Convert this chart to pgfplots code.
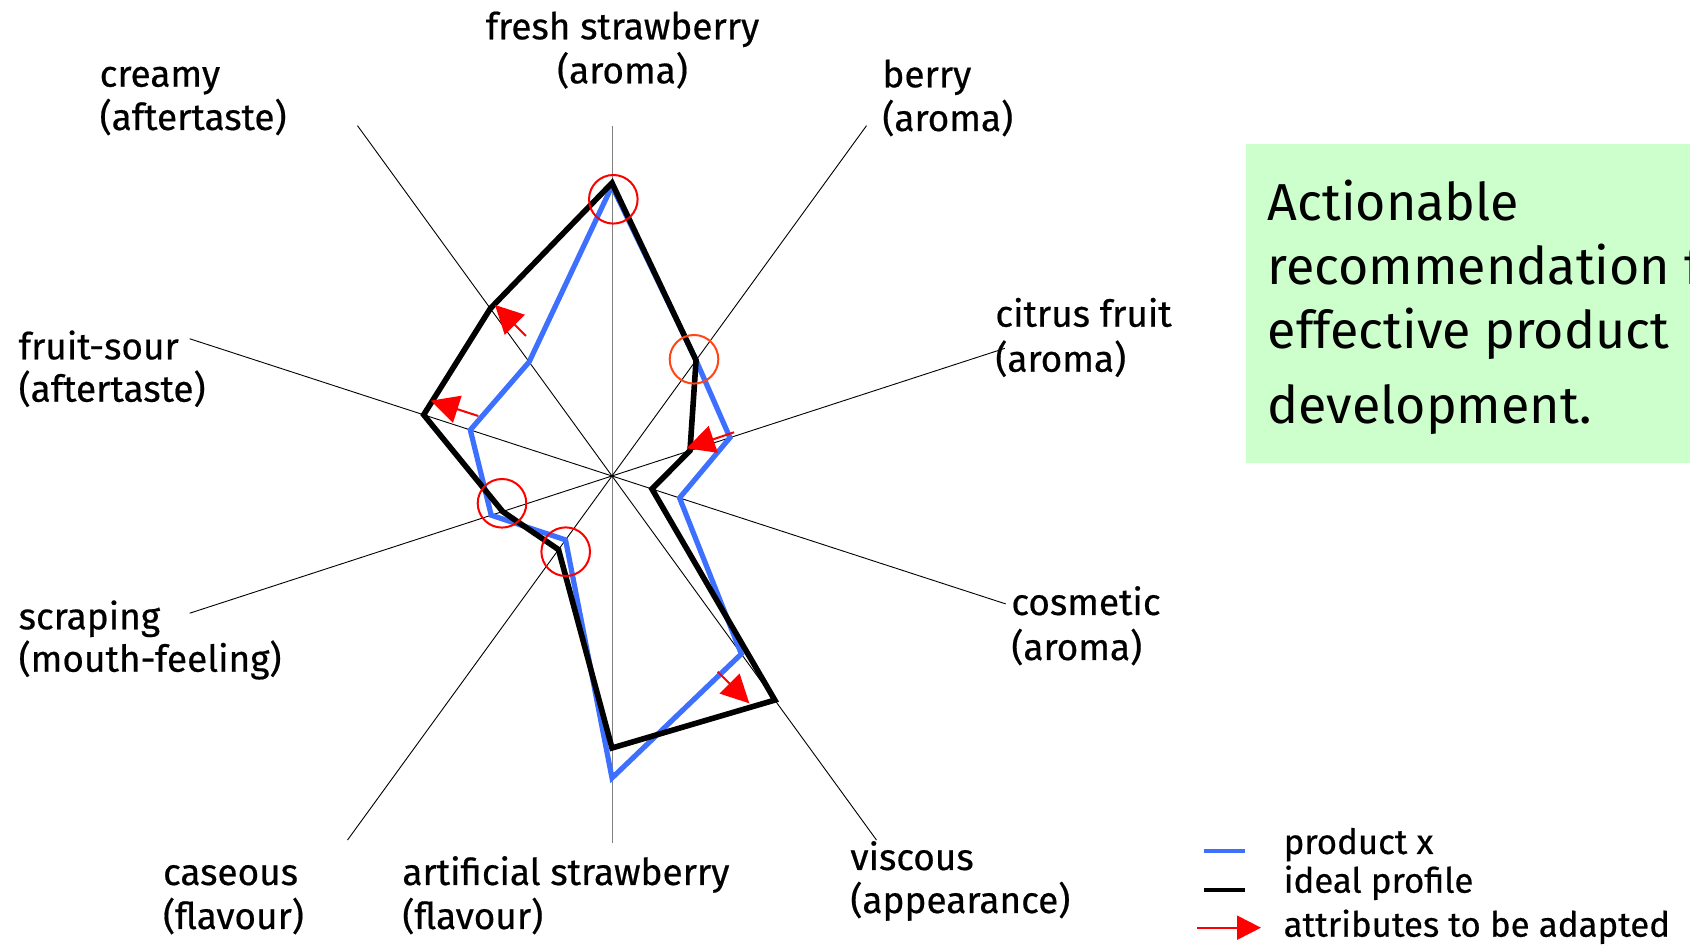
\documentclass[border=0pt]{standalone}
\usepackage{fontspec}
\setmainfont{Fira Sans}
\newfontfamily\labfamily{Fira Sans}[FakeBold=0.5]
\usepackage{pgfplots}
\pgfplotsset{compat=1.18}
\usetikzlibrary{arrows.meta}
\definecolor{prodblue}{RGB}{62,112,255}
\definecolor{boxgreen}{RGB}{204,255,204}
\definecolor{circorange}{RGB}{255,70,20}
\newcommand\lab{\labfamily\fontsize{18.5pt}{22pt}\selectfont}
\newcommand\leg{\labfamily\fontsize{17.4pt}{22pt}\selectfont}
\newcommand\boxfont{\fontsize{26pt}{32pt}\selectfont}
\begin{document}
\begin{tikzpicture}
\begin{axis}[
  width=845pt, height=472.5pt, scale only axis,
  xmin=-612, xmax=1078, ymin=-469, ymax=476,
  hide axis, clip=false,
]
% recommendation box
\fill[boxgreen] (axis cs:634,12.7) rectangle (axis cs:1120,332);
\node[anchor=base west, inner sep=0, font=\boxfont] at (axis cs:655.3,255) {Actionable};
\node[anchor=base west, inner sep=0, font=\boxfont] at (axis cs:655.3,191.7) {recommendation for};
\node[anchor=base west, inner sep=0, font=\boxfont] at (axis cs:655.3,127.7) {effective product};
\node[anchor=base west, inner sep=0, font=\boxfont] at (axis cs:655.3,52.7) {development.};

% spokes (angle, length)
\addplot[gray, line width=0.5pt, data cs=polar] coordinates {(90,350) (270,367)};
\addplot[black, line width=0.45pt, data cs=polar] coordinates {(54,433) (234,450)};
\addplot[black, line width=0.45pt, data cs=polar] coordinates {(18,413) (198,444)};
\addplot[black, line width=0.45pt, data cs=polar] coordinates {(-18,414) (162,444)};
\addplot[black, line width=0.45pt, data cs=polar] coordinates {(-54,450) (126,433)};

% product x
\addplot[prodblue, line width=2.6pt, line join=miter, data cs=polar] coordinates {
 (90,290) (54,143) (18,124) (-18,71) (-54,220) (-90,302) (-126,79) (-162,127) (162,149) (126,141)} --cycle;
% ideal profile
\addplot[black, line width=2.8pt, line join=miter, data cs=polar] coordinates {
 (90,293) (54,143) (18,82) (-18,42) (-54,277) (-90,272) (-126,91) (-162,115) (162,198) (126,207)} --cycle;

% circles: attributes already matching
\addplot[only marks, mark=o, mark size=12.15pt, mark options={red, line width=1pt}] coordinates {
 (1.3,276.7) (-110,-27.3) (-46.3,-75.7)};
\addplot[only marks, mark=o, mark size=12.15pt, mark options={circorange, line width=1pt}] coordinates {
 (82,116.7)};

% arrows: attributes to be adapted
\addplot[red, line width=1pt, -{Triangle[length=14pt,width=14pt]}] coordinates {(-86,140) (-117,171)};
\addplot[red, line width=1pt, -{Triangle[length=14pt,width=14pt]}] coordinates {(-133.7,60) (-181.3,75.3)};
\addplot[red, line width=1pt, -{Triangle[length=14pt,width=14pt]}] coordinates {(122,43.7) (74.7,27.7)};
\addplot[red, line width=1pt, -{Triangle[length=14pt,width=14pt]}] coordinates {(105.7,-195.7) (137.3,-227.3)};

% axis labels
\node[anchor=base, inner sep=0, font=\lab] at (axis cs:10.5,436.7) {fresh strawberry};
\node[anchor=base, inner sep=0, font=\lab] at (axis cs:10.5,392.7) {(aroma)};
\node[anchor=base west, inner sep=0, font=\lab] at (axis cs:270,388.7) {berry};
\node[anchor=base west, inner sep=0, font=\lab] at (axis cs:270,345) {(aroma)};
\node[anchor=base west, inner sep=0, font=\lab] at (axis cs:-512.7,389.3) {creamy};
\node[anchor=base west, inner sep=0, font=\lab] at (axis cs:-512.7,346) {(aftertaste)};
\node[anchor=base west, inner sep=0, font=\lab] at (axis cs:383,149.3) {citrus fruit};
\node[anchor=base west, inner sep=0, font=\lab] at (axis cs:383,104.3) {(aroma)};
\node[anchor=base west, inner sep=0, font=\lab] at (axis cs:399,-139) {cosmetic};
\node[anchor=base west, inner sep=0, font=\lab] at (axis cs:399,-184) {(aroma)};
\node[anchor=base west, inner sep=0, font=\lab] at (axis cs:-593.7,116.7) {fruit-sour};
\node[anchor=base west, inner sep=0, font=\lab] at (axis cs:-593.7,74.3) {(aftertaste)};
\node[anchor=base west, inner sep=0, font=\lab] at (axis cs:-593.7,-153.3) {scraping};
\node[anchor=base west, inner sep=0, font=\lab] at (axis cs:-593.7,-195.7) {(mouth-feeling)};
\node[anchor=base west, inner sep=0, font=\lab] at (axis cs:-210,-409) {artificial strawberry};
\node[anchor=base west, inner sep=0, font=\lab] at (axis cs:-210,-453) {(flavour)};
\node[anchor=base west, inner sep=0, font=\lab] at (axis cs:-449.3,-409) {caseous};
\node[anchor=base west, inner sep=0, font=\lab] at (axis cs:-449.3,-453) {(flavour)};
\node[anchor=base west, inner sep=0, font=\lab] at (axis cs:238,-394) {viscous};
\node[anchor=base west, inner sep=0, font=\lab] at (axis cs:238,-437) {(appearance)};

% legend
\draw[prodblue, line width=2pt] (axis cs:592,-374.7) -- (axis cs:633,-374.7);
\draw[black, line width=2.2pt] (axis cs:592,-414) -- (axis cs:633,-414);
\draw[red, line width=1pt, -{Triangle[length=12pt,width=12pt]}] (axis cs:585.3,-451.7) -- (axis cs:649,-451.7);
\node[anchor=base west, inner sep=0, font=\leg] at (axis cs:671.3,-378) {product x};
\node[anchor=base west, inner sep=0, font=\leg] at (axis cs:671.3,-416.7) {ideal profile};
\node[anchor=base west, inner sep=0, font=\leg] at (axis cs:671.3,-460.7) {attributes to be adapted};
\end{axis}
\pgfresetboundingbox
\path[use as bounding box] (current axis.south west) rectangle (current axis.north east);
\end{tikzpicture}
\end{document}
